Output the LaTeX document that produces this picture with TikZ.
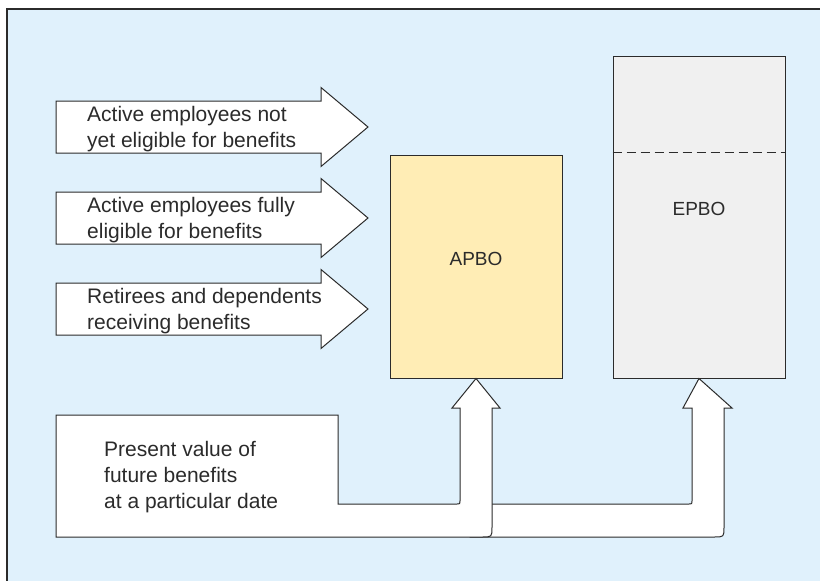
\documentclass[tikz,border=0pt]{standalone}
\usepackage{fontspec}
\setmainfont{Liberation Sans}
\usetikzlibrary{calc,positioning}
\definecolor{panelblue}{HTML}{E0F1FC}
\definecolor{apbofill}{HTML}{FFEDB5}
\definecolor{epbofill}{HTML}{F0F0F0}
\definecolor{inkgrey}{HTML}{2B2B2B}
\tikzset{
    obligation diagram/.style = {x=1pt, y=-1pt, inkgrey, text=inkgrey},
    panel/.style       = {draw, line width=1.5pt, fill=panelblue},
    outline/.style     = {draw, line width=1pt, fill=white},
    bar/.style         = {draw, line width=1pt, minimum width=172pt},
    caption/.style     = {font=\fontsize{21}{26}\selectfont, align=left,
                          inner sep=0pt},
    barlabel/.style    = {font=\fontsize{19}{23}\selectfont, inner sep=0pt},
    inflow/.pic        = {\path[outline] (0,-26) -- (265,-26) -- (265,-39.5)
                          -- (312,0) -- (265,39.5) -- (265,26) -- (0,26) -- cycle;}
}
\def\captionx{87}
\def\splitrow{152}

\begin{document}
\begin{tikzpicture}[obligation diagram]

\useasboundingbox (0,0) rectangle (820,581);
\clip (0,0) rectangle (820,581);
\path[panel] (7,9) rectangle (840,600);

% The two obligation bars.
\node[bar, fill=apbofill, minimum height=223pt] (apbo) at (476,266.5) {};
\node[barlabel] (apbo label) at (476,259) {APBO};
\node[bar, fill=epbofill, minimum height=322pt] (epbo) at (699,217) {};
\node[barlabel] (epbo label) at (699,209) {EPBO};
\draw[line width=1pt, dash pattern=on 9pt off 5pt]
    (epbo.west |- 0,\splitrow) -- (epbo.east |- 0,\splitrow);

% Employee groups flowing in from the left.
\pic at (56,127) {inflow};
\node[caption, anchor=west] (not eligible) at (\captionx,129.5)
    {Active employees not\\yet eligible for benefits};
\pic at (56,218) {inflow};
\node[caption, anchor=west] (eligible) at (\captionx,220.5)
    {Active employees fully\\eligible for benefits};
\pic at (56,309) {inflow};
\node[caption, anchor=west] (retirees) at (\captionx,311.5)
    {Retirees and dependents\\receiving benefits};

% Present value feeds both bars; the EPBO branch lies underneath.
\path[outline] (470,504) -- (689,504) .. controls (692,504) .. (692,501)
    -- (692,408) -- (683,408) -- (epbo.south) -- (732,408) -- (724,408)
    -- (724,527) .. controls (724,537) .. (714,537) -- (470,537) -- cycle;
\path[outline] (56,415) -- (338,415) -- (338,504)
    -- (457,504) .. controls (460,504) .. (460,501)
    -- (460,408) -- (452,408) -- (apbo.south) -- (500,408) -- (492,408)
    -- (492,527) .. controls (492,537) .. (482,537) -- (56,537) -- cycle;
\node[caption, anchor=west] (present) at (104,477.5)
    {Present value of\\future benefits\\at a particular date};

\end{tikzpicture}
\end{document}
